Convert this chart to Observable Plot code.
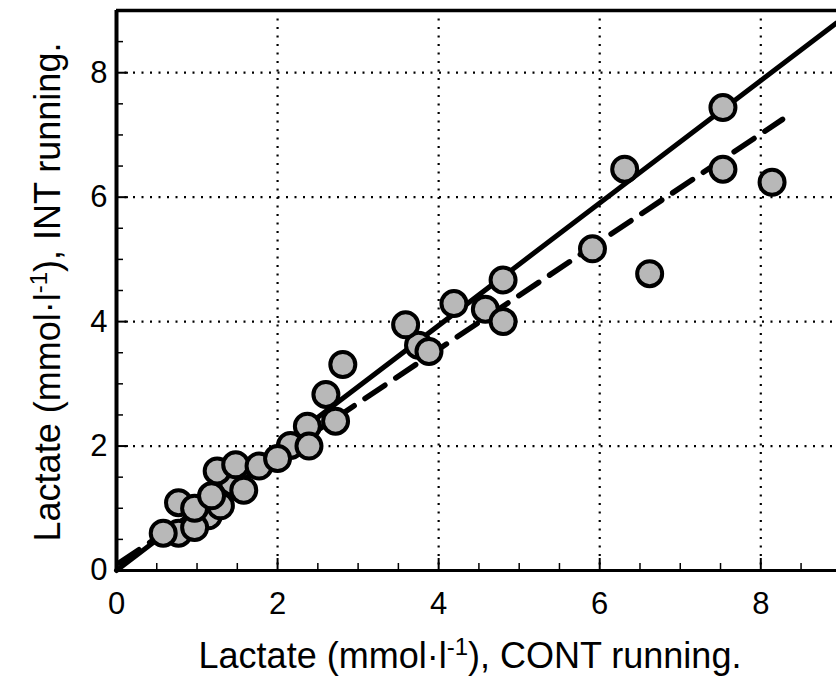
<!DOCTYPE html>
<html>
<head>
<meta charset="utf-8">
<script src="https://cdn.jsdelivr.net/npm/d3@7"></script>
<script src="https://cdn.jsdelivr.net/npm/@observablehq/plot@0.6"></script>
<style>
  html, body { margin: 0; padding: 0; background: #fff; }
  svg { font-family: "Liberation Sans", Arial, sans-serif; }
</style>
</head>
<body>
<div id="chart"></div>
<script>
// Lactate, CONT running (x) vs INT running (y), mmol/l
const contValues = [0.77, 1.14, 1.29, 1.44, 2.16, 3.75,
  0.58, 0.77, 0.97, 0.97, 1.18, 1.25, 1.48, 1.58, 1.77, 2.00, 2.37, 2.39, 2.60, 2.72, 2.81,
  3.59, 3.88, 4.19, 4.58, 4.80, 4.80, 5.91, 6.31, 6.62, 7.53, 7.53, 8.14];
const intValues = [0.60, 0.88, 1.04, 1.42, 2.01, 3.62,
  0.60, 1.09, 0.69, 1.00, 1.20, 1.60, 1.70, 1.29, 1.68, 1.80, 2.32, 2.00, 2.83, 2.40, 3.31,
  3.95, 3.52, 4.29, 4.20, 4.00, 4.67, 5.17, 6.45, 4.77, 7.44, 6.45, 6.24];
// regression lines (end points)
const solidLineX = [0, 8.94];
const solidLineY = [0, 8.80];
const dashedLineX = [0.03, 8.27];
const dashedLineY = [0.12, 7.25];
const majorTicks = [0, 2, 4, 6, 8];
const minorTicks = [0.5, 1, 1.5, 2.5, 3, 3.5, 4.5, 5, 5.5, 6.5, 7, 7.5, 8.5];
const gridTicks = [2, 4, 6, 8];

const points = contValues.map((x, i) => ({x, y: intValues[i]}));
const solid = solidLineX.map((x, i) => ({x, y: solidLineY[i]}));
const dashed = dashedLineX.map((x, i) => ({x, y: dashedLineY[i]}));

const dotted = {stroke: "black", strokeWidth: 2.2, strokeDasharray: "2,6.5"};
const labelStyle = {fontSize: 31, fill: "black", stroke: "black", strokeWidth: 0.8, tickFormat: d => String(d), label: null};

const plot = Plot.plot({
  width: 836,
  height: 682,
  marginLeft: 116,
  marginRight: 0,
  marginTop: 10,
  marginBottom: 112,
  style: {fontFamily: "Liberation Sans, Arial, sans-serif", background: "white"},
  x: {domain: [0, 8.94]},
  y: {domain: [0, 9]},
  marks: [
    Plot.ruleX(gridTicks, dotted),
    Plot.ruleY(gridTicks, dotted),
    Plot.line(dashed, {x: "x", y: "y", stroke: "black", strokeWidth: 5.5, strokeDasharray: "24,13"}),
    Plot.line(solid, {x: "x", y: "y", stroke: "black", strokeWidth: 5}),
    Plot.dot(points, {x: "x", y: "y", r: 12.5, fill: "#b8b8b8", stroke: "black", strokeWidth: 4, fillOpacity: 1}),
    // ticks (inward)
    Plot.axisX(majorTicks, {tickSize: -12, text: null, label: null, strokeWidth: 2}),
    Plot.axisX(minorTicks, {tickSize: -7, text: null, label: null, strokeWidth: 1.5}),
    Plot.axisY(majorTicks, {tickSize: -12, text: null, label: null, strokeWidth: 2}),
    Plot.axisY(minorTicks, {tickSize: -7, text: null, label: null, strokeWidth: 1.5}),
    // tick labels
    Plot.axisX(majorTicks, {tickSize: 0, tickPadding: 21, ...labelStyle}),
    Plot.axisY(majorTicks, {tickSize: 0, tickPadding: 9, ...labelStyle}),
    // frame
    Plot.ruleX([0], {stroke: "black", strokeWidth: 4}),
    Plot.ruleY([0], {stroke: "black", strokeWidth: 3}),
    Plot.ruleY([9], {stroke: "black", strokeWidth: 3.5})
  ]
});

document.getElementById("chart").appendChild(plot);

const svg = d3.select(plot);
// enlarge numeric tick labels
svg.selectAll("text").filter(function () { return /^\d$/.test(this.textContent.trim()); })
  .attr("font-size", 31).style("font-size", "31px");

// axis titles with superscripts
const xt = svg.append("text")
  .attr("x", 470).attr("y", 668)
  .attr("text-anchor", "middle")
  .attr("font-size", 36)
  .attr("fill", "black");
xt.append("tspan").text("Lactate (mmol·l");
xt.append("tspan").attr("font-size", 24).attr("dy", -13).text("-1");
xt.append("tspan").attr("dy", 13).text("), CONT running.");

const yt = svg.append("text")
  .attr("transform", "translate(60,292) rotate(-90)")
  .attr("text-anchor", "middle")
  .attr("font-size", 36)
  .attr("fill", "black");
yt.append("tspan").text("Lactate (mmol·l");
yt.append("tspan").attr("font-size", 24).attr("dy", -13).text("-1");
yt.append("tspan").attr("dy", 13).text("), INT running.");
</script>
</body>
</html>
